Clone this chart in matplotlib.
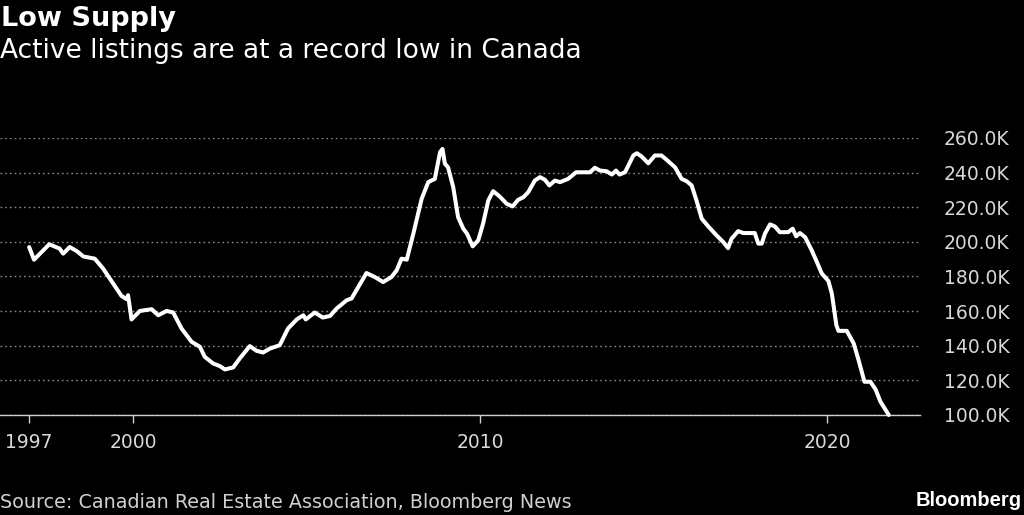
import matplotlib
matplotlib.use("Agg")
import matplotlib.pyplot as plt
from matplotlib.ticker import FuncFormatter, FixedLocator

# Active listings in Canada (thousands); x = decimal year
years = [1997.00, 1997.14, 1997.58, 1997.88, 1997.98, 1998.17, 1998.37, 1998.56, 1998.89,
         1999.13, 1999.42, 1999.66, 1999.81, 1999.85, 1999.95, 2000.19, 2000.53, 2000.72,
         2000.96, 2001.15, 2001.39, 2001.68, 2001.92, 2002.06, 2002.30, 2002.50, 2002.64,
         2002.88, 2003.07, 2003.36, 2003.55, 2003.74, 2003.94, 2004.22, 2004.46, 2004.71,
         2004.90, 2004.97, 2005.23, 2005.46, 2005.67, 2005.86, 2006.15, 2006.29, 2006.72,
         2006.96, 2007.20, 2007.44, 2007.59, 2007.73, 2007.88, 2008.07, 2008.31, 2008.50,
         2008.69, 2008.84, 2008.91, 2008.98, 2009.07, 2009.22, 2009.36, 2009.51, 2009.62,
         2009.78, 2009.94, 2010.08, 2010.23, 2010.37, 2010.56, 2010.76, 2010.93, 2011.09,
         2011.24, 2011.38, 2011.57, 2011.72, 2011.86, 2011.99, 2012.15, 2012.30, 2012.53,
         2012.76, 2013.16, 2013.30, 2013.45, 2013.64, 2013.79, 2013.91, 2014.01, 2014.17,
         2014.41, 2014.51, 2014.65, 2014.84, 2015.03, 2015.22, 2015.37, 2015.61, 2015.80,
         2015.95, 2016.09, 2016.23, 2016.38, 2016.57, 2016.81, 2017.00, 2017.14, 2017.24,
         2017.43, 2017.58, 2017.91, 2018.01, 2018.11, 2018.20, 2018.35, 2018.49, 2018.63,
         2018.87, 2019.00, 2019.10, 2019.21, 2019.36, 2019.55, 2019.70, 2019.84, 2020.03,
         2020.13, 2020.26, 2020.32, 2020.56, 2020.76, 2020.90, 2021.07, 2021.24, 2021.39,
         2021.53, 2021.77]
listings = [197.0, 189.7, 198.6, 196.1, 193.2, 197.0, 194.7, 191.6, 190.3,
            184.6, 175.9, 168.8, 166.9, 169.2, 155.2, 160.1, 161.1, 157.6,
            160.1, 159.2, 150.0, 142.3, 139.4, 133.6, 129.8, 128.2, 126.3,
            127.5, 132.7, 139.8, 137.1, 136.1, 138.4, 140.3, 150.0, 155.2,
            157.6, 155.2, 159.2, 156.3, 157.2, 161.5, 166.3, 167.3, 182.0,
            179.7, 176.8, 179.7, 183.6, 190.3, 189.7, 204.7, 224.9, 234.5,
            236.4, 251.8, 253.7, 245.1, 243.1, 231.6, 214.3, 207.6, 204.7,
            197.4, 200.9, 210.5, 223.9, 229.3, 226.2, 222.0, 220.5, 224.3,
            225.8, 228.7, 235.4, 237.4, 235.9, 232.6, 235.4, 234.5, 236.4,
            240.2, 240.2, 242.8, 241.2, 240.8, 238.9, 241.2, 238.9, 240.2,
            249.9, 251.2, 249.3, 245.4, 249.9, 249.9, 247.4, 243.1, 236.4,
            235.0, 232.6, 223.9, 213.4, 208.9, 203.7, 199.9, 196.4, 201.8,
            206.2, 205.1, 205.1, 199.0, 199.0, 204.7, 210.1, 208.9, 205.6,
            205.6, 207.6, 203.2, 205.1, 202.7, 195.1, 188.3, 181.7, 177.4,
            170.1, 151.9, 148.6, 148.6, 141.3, 131.7, 119.2, 119.2, 114.8,
            107.7, 100.0]

x_ticks = [1997, 2000, 2010, 2020]
y_ticks = [100, 120, 140, 160, 180, 200, 220, 240, 260]

title = "Low Supply"
subtitle = "Active listings are at a record low in Canada"
source = "Source: Canadian Real Estate Association, Bloomberg News"

BG = "#000000"
W, H = 1024, 515
fig = plt.figure(figsize=(W / 100, H / 100), dpi=100, facecolor=BG)

left_px, right_px, top_px, bottom_px = 0, 920, 138, 415
ax = fig.add_axes([left_px / W, 1 - bottom_px / H, (right_px - left_px) / W,
                   (bottom_px - top_px) / H], facecolor=BG)

ax.plot(years, listings, color="white", lw=2.9, solid_joinstyle="round",
        solid_capstyle="round", clip_on=False, zorder=3)

ax.set_xlim(1996.16, 2022.67)
ax.set_ylim(100, 260)

ax.yaxis.set_major_locator(FixedLocator(y_ticks))
ax.xaxis.set_major_locator(FixedLocator(x_ticks))
ax.yaxis.set_major_formatter(FuncFormatter(lambda v, p: f"{v:.1f}K"))
ax.yaxis.tick_right()
ax.grid(axis="y", color="#8a8a8a", linestyle=(0, (1.2, 2.2)), linewidth=1.0, zorder=1)
ax.grid(axis="x", visible=False)

for s in ["top", "left", "right"]:
    ax.spines[s].set_visible(False)
ax.spines["bottom"].set_color("#cfcfcf")
ax.spines["bottom"].set_linewidth(1.0)
ax.spines["bottom"].set_zorder(2)

ax.tick_params(axis="x", colors="#cfcfcf", direction="out", length=6, width=1,
               labelsize=13.5, pad=7, labelcolor="#d8d8d8")
ax.tick_params(axis="y", length=0, pad=17, labelsize=13.5, labelcolor="#d8d8d8")

fig.text(1 / W, 1 - 19 / H, title, color="white", fontsize=19.5, fontweight="bold",
         ha="left", va="center", family="DejaVu Sans")
fig.text(0 / W, 1 - 51 / H, subtitle, color="white", fontsize=19,
         ha="left", va="center", family="DejaVu Sans")
fig.text(0 / W, 1 - 502 / H, source, color="#d0d0d0", fontsize=13.8,
         ha="left", va="center", family="DejaVu Sans")
fig.text(1022 / W, 1 - 500 / H, "Bloomberg", color="white", fontsize=14.5,
         fontweight="bold", ha="right", va="center",
         family=["Liberation Sans Narrow", "Liberation Sans", "DejaVu Sans"])

fig.savefig("out.png", dpi=100, facecolor=BG)
